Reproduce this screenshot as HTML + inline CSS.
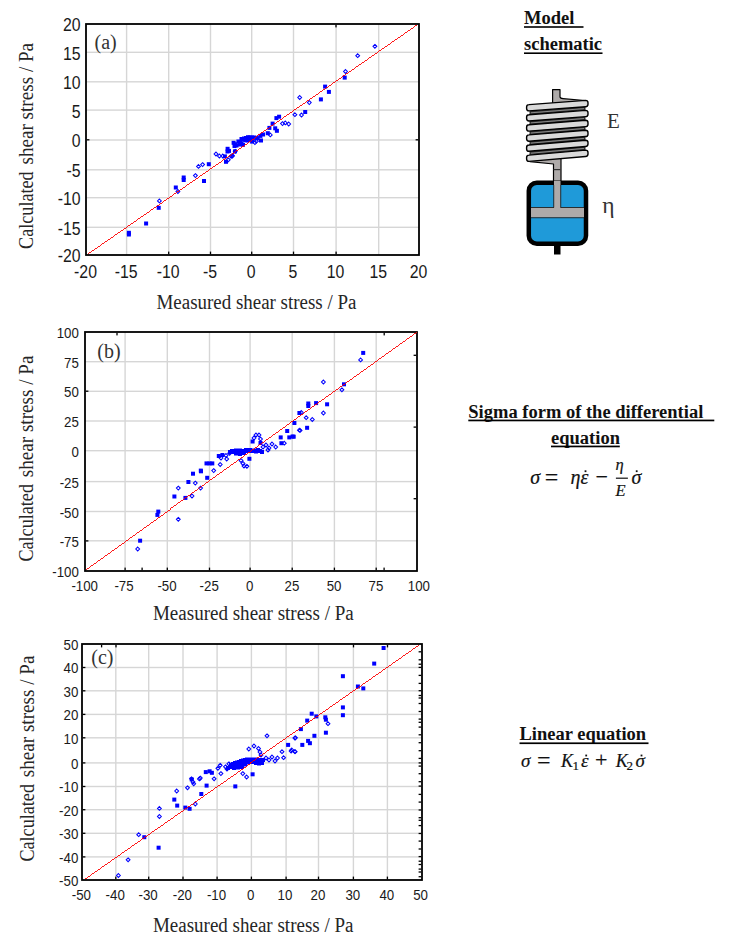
<!DOCTYPE html>
<html><head><meta charset="utf-8"><title>Figure</title>
<style>
html,body{margin:0;padding:0;background:#fff;width:729px;height:941px;overflow:hidden}
svg{display:block}
.tk{font-family:"Liberation Sans",sans-serif;fill:#1a1a1a}
.sf{font-family:"Liberation Serif",serif}
.sb{font-family:"Liberation Serif",serif;font-weight:bold;fill:#111}
.mi{font-family:"Liberation Serif",serif;font-style:italic}
.mn{font-family:"Liberation Serif",serif}
</style></head><body>
<svg width="729" height="941" viewBox="0 0 729 941">
<rect width="729" height="941" fill="#fff"/>
<rect x="125.9" y="24" width="1.4" height="231" fill="#d6d6d6"/>
<rect x="86" y="51.6" width="333" height="1.4" fill="#d6d6d6"/>
<rect x="168" y="24" width="1.4" height="231" fill="#d6d6d6"/>
<rect x="86" y="81.1" width="333" height="1.4" fill="#d6d6d6"/>
<rect x="209.8" y="24" width="1.4" height="231" fill="#d6d6d6"/>
<rect x="86" y="109.4" width="333" height="1.4" fill="#d6d6d6"/>
<rect x="251" y="24" width="1.4" height="231" fill="#d6d6d6"/>
<rect x="86" y="139.3" width="333" height="1.4" fill="#d6d6d6"/>
<rect x="292.8" y="24" width="1.4" height="231" fill="#d6d6d6"/>
<rect x="86" y="169.1" width="333" height="1.4" fill="#d6d6d6"/>
<rect x="335.4" y="24" width="1.4" height="231" fill="#d6d6d6"/>
<rect x="86" y="197" width="333" height="1.4" fill="#d6d6d6"/>
<rect x="378" y="24" width="1.4" height="231" fill="#d6d6d6"/>
<rect x="86" y="226.6" width="333" height="1.4" fill="#d6d6d6"/>
<rect x="126.9" y="230.8" width="4" height="4" fill="#0000ff"/>
<rect x="126.9" y="232.5" width="4" height="4" fill="#0000ff"/>
<rect x="144.1" y="221.5" width="4" height="4" fill="#0000ff"/>
<rect x="156.7" y="205.8" width="4" height="4" fill="#0000ff"/>
<path d="M159.4 199l1.9 1.9l-1.9 1.9l-1.9 -1.9z" fill="none" stroke="#0000ff" stroke-width="1.05"/>
<rect x="173.8" y="185.5" width="4" height="4" fill="#0000ff"/>
<path d="M177.9 189.6l1.9 1.9l-1.9 1.9l-1.9 -1.9z" fill="none" stroke="#0000ff" stroke-width="1.05"/>
<rect x="181.7" y="175.5" width="4" height="4" fill="#0000ff"/>
<rect x="181.7" y="178" width="4" height="4" fill="#0000ff"/>
<path d="M195.4 173.7l1.9 1.9l-1.9 1.9l-1.9 -1.9z" fill="none" stroke="#0000ff" stroke-width="1.05"/>
<path d="M198.5 164.5l1.9 1.9l-1.9 1.9l-1.9 -1.9z" fill="none" stroke="#0000ff" stroke-width="1.05"/>
<path d="M202.6 162.7l1.9 1.9l-1.9 1.9l-1.9 -1.9z" fill="none" stroke="#0000ff" stroke-width="1.05"/>
<rect x="206.8" y="162.2" width="4" height="4" fill="#0000ff"/>
<rect x="202" y="179" width="4" height="4" fill="#0000ff"/>
<path d="M216 152.1l1.9 1.9l-1.9 1.9l-1.9 -1.9z" fill="none" stroke="#0000ff" stroke-width="1.05"/>
<path d="M219.4 154.1l1.9 1.9l-1.9 1.9l-1.9 -1.9z" fill="none" stroke="#0000ff" stroke-width="1.05"/>
<path d="M222.8 154.1l1.9 1.9l-1.9 1.9l-1.9 -1.9z" fill="none" stroke="#0000ff" stroke-width="1.05"/>
<rect x="222.9" y="154.4" width="4" height="4" fill="#0000ff"/>
<rect x="224" y="159.8" width="4" height="4" fill="#0000ff"/>
<path d="M228.3 157.9l1.9 1.9l-1.9 1.9l-1.9 -1.9z" fill="none" stroke="#0000ff" stroke-width="1.05"/>
<rect x="225.6" y="146.8" width="4" height="4" fill="#0000ff"/>
<rect x="227" y="148.9" width="4" height="4" fill="#0000ff"/>
<rect x="225.5" y="149.5" width="4" height="4" fill="#0000ff"/>
<path d="M231.2 154.4l1.9 1.9l-1.9 1.9l-1.9 -1.9z" fill="none" stroke="#0000ff" stroke-width="1.05"/>
<path d="M232.4 154.1l1.9 1.9l-1.9 1.9l-1.9 -1.9z" fill="none" stroke="#0000ff" stroke-width="1.05"/>
<path d="M235.2 149.4l1.9 1.9l-1.9 1.9l-1.9 -1.9z" fill="none" stroke="#0000ff" stroke-width="1.05"/>
<rect x="265.8" y="131.2" width="4" height="4" fill="#0000ff"/>
<path d="M270.3 133l1.9 1.9l-1.9 1.9l-1.9 -1.9z" fill="none" stroke="#0000ff" stroke-width="1.05"/>
<rect x="267.4" y="125.9" width="4" height="4" fill="#0000ff"/>
<rect x="270.6" y="121.6" width="4" height="4" fill="#0000ff"/>
<rect x="273.2" y="126.3" width="4" height="4" fill="#0000ff"/>
<rect x="274.9" y="128.8" width="4" height="4" fill="#0000ff"/>
<rect x="274.4" y="116.1" width="4" height="4" fill="#0000ff"/>
<rect x="277.1" y="114.7" width="4" height="4" fill="#0000ff"/>
<path d="M282.5 121.7l1.9 1.9l-1.9 1.9l-1.9 -1.9z" fill="none" stroke="#0000ff" stroke-width="1.05"/>
<path d="M285.3 121l1.9 1.9l-1.9 1.9l-1.9 -1.9z" fill="none" stroke="#0000ff" stroke-width="1.05"/>
<path d="M288.7 122.1l1.9 1.9l-1.9 1.9l-1.9 -1.9z" fill="none" stroke="#0000ff" stroke-width="1.05"/>
<path d="M294.9 112.8l1.9 1.9l-1.9 1.9l-1.9 -1.9z" fill="none" stroke="#0000ff" stroke-width="1.05"/>
<path d="M301.5 113.1l1.9 1.9l-1.9 1.9l-1.9 -1.9z" fill="none" stroke="#0000ff" stroke-width="1.05"/>
<rect x="303.2" y="110" width="4" height="4" fill="#0000ff"/>
<path d="M299.7 95.6l1.9 1.9l-1.9 1.9l-1.9 -1.9z" fill="none" stroke="#0000ff" stroke-width="1.05"/>
<path d="M309.3 100.7l1.9 1.9l-1.9 1.9l-1.9 -1.9z" fill="none" stroke="#0000ff" stroke-width="1.05"/>
<rect x="318.9" y="97.4" width="4" height="4" fill="#0000ff"/>
<rect x="323.1" y="84.6" width="4" height="4" fill="#0000ff"/>
<rect x="326.9" y="89.9" width="4" height="4" fill="#0000ff"/>
<rect x="342.7" y="75.6" width="4" height="4" fill="#0000ff"/>
<path d="M345.5 69.6l1.9 1.9l-1.9 1.9l-1.9 -1.9z" fill="none" stroke="#0000ff" stroke-width="1.05"/>
<path d="M357.7 53.8l1.9 1.9l-1.9 1.9l-1.9 -1.9z" fill="none" stroke="#0000ff" stroke-width="1.05"/>
<path d="M374.9 44.4l1.9 1.9l-1.9 1.9l-1.9 -1.9z" fill="none" stroke="#0000ff" stroke-width="1.05"/>
<rect x="231.6" y="140.8" width="4" height="4" fill="#0000ff"/>
<rect x="233" y="142.2" width="4" height="4" fill="#0000ff"/>
<rect x="234.5" y="143.5" width="4" height="4" fill="#0000ff"/>
<rect x="232.5" y="144" width="4" height="4" fill="#0000ff"/>
<rect x="236.4" y="139.5" width="4" height="4" fill="#0000ff"/>
<rect x="238" y="140.8" width="4" height="4" fill="#0000ff"/>
<rect x="239.5" y="141.8" width="4" height="4" fill="#0000ff"/>
<rect x="241" y="142.8" width="4" height="4" fill="#0000ff"/>
<rect x="237.5" y="142.5" width="4" height="4" fill="#0000ff"/>
<rect x="239.5" y="137" width="4" height="4" fill="#0000ff"/>
<rect x="241.5" y="137.8" width="4" height="4" fill="#0000ff"/>
<rect x="243.5" y="138.2" width="4" height="4" fill="#0000ff"/>
<rect x="245.5" y="138.5" width="4" height="4" fill="#0000ff"/>
<rect x="242" y="136.5" width="4" height="4" fill="#0000ff"/>
<rect x="244" y="136" width="4" height="4" fill="#0000ff"/>
<rect x="246" y="135.2" width="4" height="4" fill="#0000ff"/>
<rect x="248" y="135.5" width="4" height="4" fill="#0000ff"/>
<rect x="250" y="135.4" width="4" height="4" fill="#0000ff"/>
<rect x="252" y="135.6" width="4" height="4" fill="#0000ff"/>
<rect x="254" y="135.8" width="4" height="4" fill="#0000ff"/>
<rect x="255.6" y="136.2" width="4" height="4" fill="#0000ff"/>
<rect x="247.5" y="137.4" width="4" height="4" fill="#0000ff"/>
<rect x="249.5" y="137.8" width="4" height="4" fill="#0000ff"/>
<rect x="250.1" y="139.6" width="4" height="4" fill="#0000ff"/>
<path d="M254.9 140.7l1.9 1.9l-1.9 1.9l-1.9 -1.9z" fill="none" stroke="#0000ff" stroke-width="1.05"/>
<path d="M256.4 139.3l1.9 1.9l-1.9 1.9l-1.9 -1.9z" fill="none" stroke="#0000ff" stroke-width="1.05"/>
<rect x="258.4" y="133.9" width="4" height="4" fill="#0000ff"/>
<rect x="261.1" y="132.5" width="4" height="4" fill="#0000ff"/>
<rect x="259" y="138.5" width="4" height="4" fill="#0000ff"/>
<rect x="233" y="149.4" width="4" height="4" fill="#0000ff"/>
<path d="M232.2 153.7l1.9 1.9l-1.9 1.9l-1.9 -1.9z" fill="none" stroke="#0000ff" stroke-width="1.05"/>
<rect x="86" y="24" width="333" height="231" fill="none" stroke="#000" stroke-width="1.8"/>
<line x1="87.5" y1="253.7" x2="416.5" y2="25.3" stroke="#ff0000" stroke-width="0.9" shape-rendering="crispEdges"/>
<rect x="86.8" y="139.15" width="2.6" height="1.3" fill="#000"/>
<rect x="415.6" y="139.15" width="2.6" height="1.3" fill="#000"/>
<rect x="335.35" y="24.8" width="1.3" height="2.6" fill="#000"/>
<rect x="168.05" y="251.6" width="1.3" height="2.6" fill="#000"/>
<rect x="209.85" y="251.6" width="1.3" height="2.6" fill="#000"/>
<rect x="251.05" y="251.6" width="1.3" height="2.6" fill="#000"/>
<rect x="292.85" y="251.6" width="1.3" height="2.6" fill="#000"/>
<rect x="335.45" y="251.6" width="1.3" height="2.6" fill="#000"/>
<text transform="translate(85.5 277.5) scale(0.88 1)" text-anchor="middle" class="tk" font-size="18">-20</text>
<text transform="translate(80.6 262.4) scale(0.88 1)" text-anchor="end" class="tk" font-size="18">-20</text>
<text transform="translate(126.1 277.5) scale(0.88 1)" text-anchor="middle" class="tk" font-size="18">-15</text>
<text transform="translate(80.6 234.7) scale(0.88 1)" text-anchor="end" class="tk" font-size="18">-15</text>
<text transform="translate(168.2 277.5) scale(0.88 1)" text-anchor="middle" class="tk" font-size="18">-10</text>
<text transform="translate(80.6 205.1) scale(0.88 1)" text-anchor="end" class="tk" font-size="18">-10</text>
<text transform="translate(210 277.5) scale(0.88 1)" text-anchor="middle" class="tk" font-size="18">-5</text>
<text transform="translate(80.6 177.2) scale(0.88 1)" text-anchor="end" class="tk" font-size="18">-5</text>
<text transform="translate(251.2 277.5) scale(0.88 1)" text-anchor="middle" class="tk" font-size="18">0</text>
<text transform="translate(80.6 147.4) scale(0.88 1)" text-anchor="end" class="tk" font-size="18">0</text>
<text transform="translate(293 277.5) scale(0.88 1)" text-anchor="middle" class="tk" font-size="18">5</text>
<text transform="translate(80.6 117.5) scale(0.88 1)" text-anchor="end" class="tk" font-size="18">5</text>
<text transform="translate(335.6 277.5) scale(0.88 1)" text-anchor="middle" class="tk" font-size="18">10</text>
<text transform="translate(80.6 89.2) scale(0.88 1)" text-anchor="end" class="tk" font-size="18">10</text>
<text transform="translate(378.2 277.5) scale(0.88 1)" text-anchor="middle" class="tk" font-size="18">15</text>
<text transform="translate(80.6 59.7) scale(0.88 1)" text-anchor="end" class="tk" font-size="18">15</text>
<text transform="translate(418.5 277.5) scale(0.88 1)" text-anchor="middle" class="tk" font-size="18">20</text>
<text transform="translate(80.6 31.4) scale(0.88 1)" text-anchor="end" class="tk" font-size="18">20</text>
<text x="94.5" y="48.6" class="sf" font-size="20" fill="#333">(a)</text>
<text x="156.5" y="309.2" class="sf" font-size="20" textLength="199.9" lengthAdjust="spacingAndGlyphs" fill="#262626">Measured shear stress / Pa</text>
<text transform="translate(32.5 248.9) rotate(-90)" x="0" y="0" class="sf" font-size="20" textLength="77.6" lengthAdjust="spacingAndGlyphs" fill="#262626">Calculated</text>
<text transform="translate(32.5 164.5) rotate(-90)" x="0" y="0" class="sf" font-size="20" textLength="121.6" lengthAdjust="spacingAndGlyphs" fill="#262626">shear stress / Pa</text>
<rect x="124.4" y="332" width="1.4" height="239" fill="#d6d6d6"/>
<rect x="85" y="361" width="332" height="1.4" fill="#d6d6d6"/>
<rect x="166.6" y="332" width="1.4" height="239" fill="#d6d6d6"/>
<rect x="85" y="390.6" width="332" height="1.4" fill="#d6d6d6"/>
<rect x="208.8" y="332" width="1.4" height="239" fill="#d6d6d6"/>
<rect x="85" y="420.3" width="332" height="1.4" fill="#d6d6d6"/>
<rect x="249.4" y="332" width="1.4" height="239" fill="#d6d6d6"/>
<rect x="85" y="450" width="332" height="1.4" fill="#d6d6d6"/>
<rect x="291.5" y="332" width="1.4" height="239" fill="#d6d6d6"/>
<rect x="85" y="480.9" width="332" height="1.4" fill="#d6d6d6"/>
<rect x="333.7" y="332" width="1.4" height="239" fill="#d6d6d6"/>
<rect x="85" y="510.8" width="332" height="1.4" fill="#d6d6d6"/>
<rect x="375.5" y="332" width="1.4" height="239" fill="#d6d6d6"/>
<rect x="85" y="540.1" width="332" height="1.4" fill="#d6d6d6"/>
<path d="M137.7 547.1l1.9 1.9l-1.9 1.9l-1.9 -1.9z" fill="none" stroke="#0000ff" stroke-width="1.05"/>
<rect x="138.1" y="538.7" width="4" height="4" fill="#0000ff"/>
<rect x="156.3" y="509.6" width="4" height="4" fill="#0000ff"/>
<rect x="155.4" y="512.9" width="4" height="4" fill="#0000ff"/>
<path d="M178.3 517.4l1.9 1.9l-1.9 1.9l-1.9 -1.9z" fill="none" stroke="#0000ff" stroke-width="1.05"/>
<rect x="172.4" y="494.5" width="4" height="4" fill="#0000ff"/>
<path d="M178.3 486.2l1.9 1.9l-1.9 1.9l-1.9 -1.9z" fill="none" stroke="#0000ff" stroke-width="1.05"/>
<rect x="183.4" y="495.9" width="4" height="4" fill="#0000ff"/>
<path d="M192 494.1l1.9 1.9l-1.9 1.9l-1.9 -1.9z" fill="none" stroke="#0000ff" stroke-width="1.05"/>
<rect x="186.4" y="480" width="4" height="4" fill="#0000ff"/>
<path d="M195.3 481.2l1.9 1.9l-1.9 1.9l-1.9 -1.9z" fill="none" stroke="#0000ff" stroke-width="1.05"/>
<rect x="191" y="471.7" width="4" height="4" fill="#0000ff"/>
<rect x="199" y="469.3" width="4" height="4" fill="#0000ff"/>
<path d="M200.6 486.2l1.9 1.9l-1.9 1.9l-1.9 -1.9z" fill="none" stroke="#0000ff" stroke-width="1.05"/>
<rect x="198.8" y="468.6" width="4" height="4" fill="#0000ff"/>
<rect x="205.2" y="475.8" width="4" height="4" fill="#0000ff"/>
<rect x="204.5" y="461.4" width="4" height="4" fill="#0000ff"/>
<rect x="207.5" y="461.4" width="4" height="4" fill="#0000ff"/>
<rect x="210.3" y="461.4" width="4" height="4" fill="#0000ff"/>
<path d="M213.7 468.7l1.9 1.9l-1.9 1.9l-1.9 -1.9z" fill="none" stroke="#0000ff" stroke-width="1.05"/>
<path d="M220.2 462.6l1.9 1.9l-1.9 1.9l-1.9 -1.9z" fill="none" stroke="#0000ff" stroke-width="1.05"/>
<rect x="216.8" y="454" width="4" height="4" fill="#0000ff"/>
<path d="M221 456.1l1.9 1.9l-1.9 1.9l-1.9 -1.9z" fill="none" stroke="#0000ff" stroke-width="1.05"/>
<rect x="220.4" y="453" width="4" height="4" fill="#0000ff"/>
<path d="M226.7 457.1l1.9 1.9l-1.9 1.9l-1.9 -1.9z" fill="none" stroke="#0000ff" stroke-width="1.05"/>
<path d="M226 453.6l1.9 1.9l-1.9 1.9l-1.9 -1.9z" fill="none" stroke="#0000ff" stroke-width="1.05"/>
<path d="M229.6 451.4l1.9 1.9l-1.9 1.9l-1.9 -1.9z" fill="none" stroke="#0000ff" stroke-width="1.05"/>
<rect x="228" y="450" width="4" height="4" fill="#0000ff"/>
<rect x="230" y="449" width="4" height="4" fill="#0000ff"/>
<rect x="232" y="450" width="4" height="4" fill="#0000ff"/>
<rect x="234" y="448.5" width="4" height="4" fill="#0000ff"/>
<rect x="236" y="449.5" width="4" height="4" fill="#0000ff"/>
<rect x="238" y="448.5" width="4" height="4" fill="#0000ff"/>
<rect x="240" y="450" width="4" height="4" fill="#0000ff"/>
<rect x="242" y="449" width="4" height="4" fill="#0000ff"/>
<rect x="244" y="448" width="4" height="4" fill="#0000ff"/>
<rect x="246" y="449" width="4" height="4" fill="#0000ff"/>
<rect x="248" y="448" width="4" height="4" fill="#0000ff"/>
<rect x="250" y="449" width="4" height="4" fill="#0000ff"/>
<rect x="252" y="448.5" width="4" height="4" fill="#0000ff"/>
<rect x="254" y="449.5" width="4" height="4" fill="#0000ff"/>
<rect x="256" y="448" width="4" height="4" fill="#0000ff"/>
<rect x="258" y="449" width="4" height="4" fill="#0000ff"/>
<rect x="260" y="450" width="4" height="4" fill="#0000ff"/>
<rect x="234" y="451.5" width="4" height="4" fill="#0000ff"/>
<rect x="238" y="452" width="4" height="4" fill="#0000ff"/>
<rect x="242" y="451" width="4" height="4" fill="#0000ff"/>
<path d="M241 458.6l1.9 1.9l-1.9 1.9l-1.9 -1.9z" fill="none" stroke="#0000ff" stroke-width="1.05"/>
<path d="M243 461.6l1.9 1.9l-1.9 1.9l-1.9 -1.9z" fill="none" stroke="#0000ff" stroke-width="1.05"/>
<path d="M246.9 464.4l1.9 1.9l-1.9 1.9l-1.9 -1.9z" fill="none" stroke="#0000ff" stroke-width="1.05"/>
<path d="M244 464.1l1.9 1.9l-1.9 1.9l-1.9 -1.9z" fill="none" stroke="#0000ff" stroke-width="1.05"/>
<rect x="247.4" y="456.8" width="4" height="4" fill="#0000ff"/>
<rect x="250.6" y="439.5" width="4" height="4" fill="#0000ff"/>
<path d="M254 436.1l1.9 1.9l-1.9 1.9l-1.9 -1.9z" fill="none" stroke="#0000ff" stroke-width="1.05"/>
<path d="M256 433.1l1.9 1.9l-1.9 1.9l-1.9 -1.9z" fill="none" stroke="#0000ff" stroke-width="1.05"/>
<path d="M259 433.1l1.9 1.9l-1.9 1.9l-1.9 -1.9z" fill="none" stroke="#0000ff" stroke-width="1.05"/>
<path d="M260.5 437.1l1.9 1.9l-1.9 1.9l-1.9 -1.9z" fill="none" stroke="#0000ff" stroke-width="1.05"/>
<rect x="258.5" y="441" width="4" height="4" fill="#0000ff"/>
<path d="M263 445.1l1.9 1.9l-1.9 1.9l-1.9 -1.9z" fill="none" stroke="#0000ff" stroke-width="1.05"/>
<path d="M266 443.1l1.9 1.9l-1.9 1.9l-1.9 -1.9z" fill="none" stroke="#0000ff" stroke-width="1.05"/>
<path d="M269 446.1l1.9 1.9l-1.9 1.9l-1.9 -1.9z" fill="none" stroke="#0000ff" stroke-width="1.05"/>
<path d="M272 442.1l1.9 1.9l-1.9 1.9l-1.9 -1.9z" fill="none" stroke="#0000ff" stroke-width="1.05"/>
<path d="M275.7 445.1l1.9 1.9l-1.9 1.9l-1.9 -1.9z" fill="none" stroke="#0000ff" stroke-width="1.05"/>
<path d="M268 448.1l1.9 1.9l-1.9 1.9l-1.9 -1.9z" fill="none" stroke="#0000ff" stroke-width="1.05"/>
<rect x="278.7" y="435.4" width="4" height="4" fill="#0000ff"/>
<rect x="279.4" y="441.2" width="4" height="4" fill="#0000ff"/>
<path d="M284.3 441.3l1.9 1.9l-1.9 1.9l-1.9 -1.9z" fill="none" stroke="#0000ff" stroke-width="1.05"/>
<rect x="285.2" y="429" width="4" height="4" fill="#0000ff"/>
<rect x="287.3" y="435.4" width="4" height="4" fill="#0000ff"/>
<rect x="291.7" y="434.7" width="4" height="4" fill="#0000ff"/>
<rect x="292.4" y="421" width="4" height="4" fill="#0000ff"/>
<path d="M299.4 428.3l1.9 1.9l-1.9 1.9l-1.9 -1.9z" fill="none" stroke="#0000ff" stroke-width="1.05"/>
<rect x="297.4" y="411" width="4" height="4" fill="#0000ff"/>
<rect x="290.6" y="434.5" width="4" height="4" fill="#0000ff"/>
<path d="M300.1 428.5l1.9 1.9l-1.9 1.9l-1.9 -1.9z" fill="none" stroke="#0000ff" stroke-width="1.05"/>
<rect x="305.1" y="425.8" width="4" height="4" fill="#0000ff"/>
<path d="M306.2 415.8l1.9 1.9l-1.9 1.9l-1.9 -1.9z" fill="none" stroke="#0000ff" stroke-width="1.05"/>
<path d="M312.3 417.6l1.9 1.9l-1.9 1.9l-1.9 -1.9z" fill="none" stroke="#0000ff" stroke-width="1.05"/>
<path d="M301.3 410.6l1.9 1.9l-1.9 1.9l-1.9 -1.9z" fill="none" stroke="#0000ff" stroke-width="1.05"/>
<rect x="306.3" y="401.5" width="4" height="4" fill="#0000ff"/>
<rect x="306.3" y="404" width="4" height="4" fill="#0000ff"/>
<rect x="314.1" y="401.1" width="4" height="4" fill="#0000ff"/>
<rect x="325.1" y="402.3" width="4" height="4" fill="#0000ff"/>
<path d="M323.4 411.1l1.9 1.9l-1.9 1.9l-1.9 -1.9z" fill="none" stroke="#0000ff" stroke-width="1.05"/>
<path d="M323.4 380.1l1.9 1.9l-1.9 1.9l-1.9 -1.9z" fill="none" stroke="#0000ff" stroke-width="1.05"/>
<rect x="342" y="382.3" width="4" height="4" fill="#0000ff"/>
<path d="M341.9 387.9l1.9 1.9l-1.9 1.9l-1.9 -1.9z" fill="none" stroke="#0000ff" stroke-width="1.05"/>
<path d="M360.6 358l1.9 1.9l-1.9 1.9l-1.9 -1.9z" fill="none" stroke="#0000ff" stroke-width="1.05"/>
<rect x="361.2" y="350.9" width="4" height="4" fill="#0000ff"/>
<rect x="85" y="332" width="332" height="239" fill="none" stroke="#000" stroke-width="1.8"/>
<line x1="85.5" y1="569.5" x2="416.5" y2="332.5" stroke="#ff0000" stroke-width="0.9" shape-rendering="crispEdges"/>
<rect x="413.6" y="354.65" width="2.6" height="1.3" fill="#000"/>
<rect x="413.6" y="426.45" width="2.6" height="1.3" fill="#000"/>
<rect x="413.6" y="498.05" width="2.6" height="1.3" fill="#000"/>
<rect x="85.8" y="390.55" width="2.6" height="1.3" fill="#000"/>
<rect x="85.8" y="540.25" width="2.6" height="1.3" fill="#000"/>
<rect x="116.35" y="332.8" width="1.3" height="2.6" fill="#000"/>
<rect x="383.55" y="332.8" width="1.3" height="2.6" fill="#000"/>
<rect x="124.45" y="567.6" width="1.3" height="2.6" fill="#000"/>
<rect x="141.45" y="567.6" width="1.3" height="2.6" fill="#000"/>
<rect x="166.65" y="567.6" width="1.3" height="2.6" fill="#000"/>
<rect x="208.85" y="567.6" width="1.3" height="2.6" fill="#000"/>
<rect x="249.45" y="567.6" width="1.3" height="2.6" fill="#000"/>
<rect x="291.55" y="567.6" width="1.3" height="2.6" fill="#000"/>
<rect x="333.75" y="567.6" width="1.3" height="2.6" fill="#000"/>
<rect x="375.55" y="567.6" width="1.3" height="2.6" fill="#000"/>
<rect x="383.45" y="567.6" width="1.3" height="2.6" fill="#000"/>
<text transform="translate(84.7 590.7) scale(0.95 1)" text-anchor="middle" class="tk" font-size="14">-100</text>
<text transform="translate(78.9 577) scale(0.95 1)" text-anchor="end" class="tk" font-size="14">-100</text>
<text transform="translate(124 590.7) scale(0.95 1)" text-anchor="middle" class="tk" font-size="14">-75</text>
<text transform="translate(78.9 546.8) scale(0.95 1)" text-anchor="end" class="tk" font-size="14">-75</text>
<text transform="translate(167 590.7) scale(0.95 1)" text-anchor="middle" class="tk" font-size="14">-50</text>
<text transform="translate(78.9 517.5) scale(0.95 1)" text-anchor="end" class="tk" font-size="14">-50</text>
<text transform="translate(209.2 590.7) scale(0.95 1)" text-anchor="middle" class="tk" font-size="14">-25</text>
<text transform="translate(78.9 487.6) scale(0.95 1)" text-anchor="end" class="tk" font-size="14">-25</text>
<text transform="translate(249.8 590.7) scale(0.95 1)" text-anchor="middle" class="tk" font-size="14">0</text>
<text transform="translate(78.9 456.7) scale(0.95 1)" text-anchor="end" class="tk" font-size="14">0</text>
<text transform="translate(291.9 590.7) scale(0.95 1)" text-anchor="middle" class="tk" font-size="14">25</text>
<text transform="translate(78.9 427) scale(0.95 1)" text-anchor="end" class="tk" font-size="14">25</text>
<text transform="translate(334.1 590.7) scale(0.95 1)" text-anchor="middle" class="tk" font-size="14">50</text>
<text transform="translate(78.9 397.3) scale(0.95 1)" text-anchor="end" class="tk" font-size="14">50</text>
<text transform="translate(375.9 590.7) scale(0.95 1)" text-anchor="middle" class="tk" font-size="14">75</text>
<text transform="translate(78.9 367.7) scale(0.95 1)" text-anchor="end" class="tk" font-size="14">75</text>
<text transform="translate(418.9 590.7) scale(0.95 1)" text-anchor="middle" class="tk" font-size="14">100</text>
<text transform="translate(78.9 338) scale(0.95 1)" text-anchor="end" class="tk" font-size="14">100</text>
<text x="97.3" y="357.5" class="sf" font-size="20" fill="#333">(b)</text>
<text x="152.9" y="619.9" class="sf" font-size="20" textLength="200.9" lengthAdjust="spacingAndGlyphs" fill="#262626">Measured shear stress / Pa</text>
<text transform="translate(32.5 561.6) rotate(-90)" x="0" y="0" class="sf" font-size="20" textLength="77.6" lengthAdjust="spacingAndGlyphs" fill="#262626">Calculated</text>
<text transform="translate(32.5 477.2) rotate(-90)" x="0" y="0" class="sf" font-size="20" textLength="121.6" lengthAdjust="spacingAndGlyphs" fill="#262626">shear stress / Pa</text>
<rect x="115.1" y="644" width="1.4" height="236" fill="#d6d6d6"/>
<rect x="82" y="666.8" width="340" height="1.4" fill="#d6d6d6"/>
<rect x="148" y="644" width="1.4" height="236" fill="#d6d6d6"/>
<rect x="82" y="690.1" width="340" height="1.4" fill="#d6d6d6"/>
<rect x="182.3" y="644" width="1.4" height="236" fill="#d6d6d6"/>
<rect x="82" y="713.7" width="340" height="1.4" fill="#d6d6d6"/>
<rect x="216.4" y="644" width="1.4" height="236" fill="#d6d6d6"/>
<rect x="82" y="737.1" width="340" height="1.4" fill="#d6d6d6"/>
<rect x="250.7" y="644" width="1.4" height="236" fill="#d6d6d6"/>
<rect x="82" y="762.2" width="340" height="1.4" fill="#d6d6d6"/>
<rect x="285.4" y="644" width="1.4" height="236" fill="#d6d6d6"/>
<rect x="82" y="785.8" width="340" height="1.4" fill="#d6d6d6"/>
<rect x="317.8" y="644" width="1.4" height="236" fill="#d6d6d6"/>
<rect x="82" y="809" width="340" height="1.4" fill="#d6d6d6"/>
<rect x="352.7" y="644" width="1.4" height="236" fill="#d6d6d6"/>
<rect x="82" y="832.6" width="340" height="1.4" fill="#d6d6d6"/>
<rect x="386.7" y="644" width="1.4" height="236" fill="#d6d6d6"/>
<rect x="82" y="856.2" width="340" height="1.4" fill="#d6d6d6"/>
<path d="M118.4 873.6l1.9 1.9l-1.9 1.9l-1.9 -1.9z" fill="none" stroke="#0000ff" stroke-width="1.05"/>
<path d="M128.1 857.9l1.9 1.9l-1.9 1.9l-1.9 -1.9z" fill="none" stroke="#0000ff" stroke-width="1.05"/>
<path d="M138.7 832.8l1.9 1.9l-1.9 1.9l-1.9 -1.9z" fill="none" stroke="#0000ff" stroke-width="1.05"/>
<rect x="142.3" y="835.2" width="4" height="4" fill="#0000ff"/>
<rect x="156.6" y="845.7" width="4" height="4" fill="#0000ff"/>
<path d="M159.4 814.6l1.9 1.9l-1.9 1.9l-1.9 -1.9z" fill="none" stroke="#0000ff" stroke-width="1.05"/>
<path d="M159.4 806.5l1.9 1.9l-1.9 1.9l-1.9 -1.9z" fill="none" stroke="#0000ff" stroke-width="1.05"/>
<rect x="172.3" y="797.6" width="4" height="4" fill="#0000ff"/>
<rect x="175.2" y="803.6" width="4" height="4" fill="#0000ff"/>
<path d="M176.7 789.1l1.9 1.9l-1.9 1.9l-1.9 -1.9z" fill="none" stroke="#0000ff" stroke-width="1.05"/>
<path d="M187.5 785.9l1.9 1.9l-1.9 1.9l-1.9 -1.9z" fill="none" stroke="#0000ff" stroke-width="1.05"/>
<rect x="189.7" y="777.4" width="4" height="4" fill="#0000ff"/>
<path d="M193.7 781.9l1.9 1.9l-1.9 1.9l-1.9 -1.9z" fill="none" stroke="#0000ff" stroke-width="1.05"/>
<rect x="183.3" y="805.6" width="4" height="4" fill="#0000ff"/>
<rect x="187.6" y="806.8" width="4" height="4" fill="#0000ff"/>
<path d="M195.3 802.1l1.9 1.9l-1.9 1.9l-1.9 -1.9z" fill="none" stroke="#0000ff" stroke-width="1.05"/>
<path d="M199.4 777l1.9 1.9l-1.9 1.9l-1.9 -1.9z" fill="none" stroke="#0000ff" stroke-width="1.05"/>
<path d="M193 780l1.9 1.9l-1.9 1.9l-1.9 -1.9z" fill="none" stroke="#0000ff" stroke-width="1.05"/>
<path d="M191.5 776.9l1.9 1.9l-1.9 1.9l-1.9 -1.9z" fill="none" stroke="#0000ff" stroke-width="1.05"/>
<rect x="199.3" y="792" width="4" height="4" fill="#0000ff"/>
<path d="M200.3 776.2l1.9 1.9l-1.9 1.9l-1.9 -1.9z" fill="none" stroke="#0000ff" stroke-width="1.05"/>
<rect x="204.6" y="783.6" width="4" height="4" fill="#0000ff"/>
<rect x="203.8" y="770.1" width="4" height="4" fill="#0000ff"/>
<rect x="207.6" y="769.3" width="4" height="4" fill="#0000ff"/>
<rect x="209.9" y="770.8" width="4" height="4" fill="#0000ff"/>
<path d="M214.1 776.9l1.9 1.9l-1.9 1.9l-1.9 -1.9z" fill="none" stroke="#0000ff" stroke-width="1.05"/>
<path d="M217.9 766.4l1.9 1.9l-1.9 1.9l-1.9 -1.9z" fill="none" stroke="#0000ff" stroke-width="1.05"/>
<path d="M220.2 763.4l1.9 1.9l-1.9 1.9l-1.9 -1.9z" fill="none" stroke="#0000ff" stroke-width="1.05"/>
<path d="M220.9 771.7l1.9 1.9l-1.9 1.9l-1.9 -1.9z" fill="none" stroke="#0000ff" stroke-width="1.05"/>
<path d="M225.5 764.9l1.9 1.9l-1.9 1.9l-1.9 -1.9z" fill="none" stroke="#0000ff" stroke-width="1.05"/>
<path d="M227 767.1l1.9 1.9l-1.9 1.9l-1.9 -1.9z" fill="none" stroke="#0000ff" stroke-width="1.05"/>
<path d="M228.9 761.9l1.9 1.9l-1.9 1.9l-1.9 -1.9z" fill="none" stroke="#0000ff" stroke-width="1.05"/>
<rect x="233.3" y="784.4" width="4" height="4" fill="#0000ff"/>
<rect x="229" y="763" width="4" height="4" fill="#0000ff"/>
<rect x="231" y="762" width="4" height="4" fill="#0000ff"/>
<rect x="233" y="761" width="4" height="4" fill="#0000ff"/>
<rect x="235" y="760.5" width="4" height="4" fill="#0000ff"/>
<rect x="237" y="760" width="4" height="4" fill="#0000ff"/>
<rect x="239" y="759" width="4" height="4" fill="#0000ff"/>
<rect x="241" y="758.5" width="4" height="4" fill="#0000ff"/>
<rect x="243" y="758" width="4" height="4" fill="#0000ff"/>
<rect x="245" y="757.5" width="4" height="4" fill="#0000ff"/>
<rect x="247" y="758" width="4" height="4" fill="#0000ff"/>
<rect x="249" y="757.5" width="4" height="4" fill="#0000ff"/>
<rect x="251" y="758" width="4" height="4" fill="#0000ff"/>
<rect x="253" y="757.5" width="4" height="4" fill="#0000ff"/>
<rect x="255" y="758.5" width="4" height="4" fill="#0000ff"/>
<rect x="257" y="758" width="4" height="4" fill="#0000ff"/>
<rect x="259" y="759" width="4" height="4" fill="#0000ff"/>
<rect x="261" y="758" width="4" height="4" fill="#0000ff"/>
<rect x="238" y="762" width="4" height="4" fill="#0000ff"/>
<rect x="242" y="761" width="4" height="4" fill="#0000ff"/>
<rect x="246" y="760.5" width="4" height="4" fill="#0000ff"/>
<rect x="250" y="760" width="4" height="4" fill="#0000ff"/>
<rect x="228" y="765" width="4" height="4" fill="#0000ff"/>
<rect x="231" y="764.5" width="4" height="4" fill="#0000ff"/>
<rect x="234" y="764" width="4" height="4" fill="#0000ff"/>
<rect x="237" y="763.5" width="4" height="4" fill="#0000ff"/>
<rect x="240" y="763" width="4" height="4" fill="#0000ff"/>
<rect x="243" y="762.5" width="4" height="4" fill="#0000ff"/>
<rect x="226" y="766" width="4" height="4" fill="#0000ff"/>
<rect x="232" y="766" width="4" height="4" fill="#0000ff"/>
<rect x="236" y="765.5" width="4" height="4" fill="#0000ff"/>
<rect x="240" y="765" width="4" height="4" fill="#0000ff"/>
<rect x="254" y="761" width="4" height="4" fill="#0000ff"/>
<rect x="257" y="761.5" width="4" height="4" fill="#0000ff"/>
<rect x="260" y="761" width="4" height="4" fill="#0000ff"/>
<rect x="255" y="759.5" width="4" height="4" fill="#0000ff"/>
<path d="M242.8 771.7l1.9 1.9l-1.9 1.9l-1.9 -1.9z" fill="none" stroke="#0000ff" stroke-width="1.05"/>
<path d="M246.6 775.1l1.9 1.9l-1.9 1.9l-1.9 -1.9z" fill="none" stroke="#0000ff" stroke-width="1.05"/>
<rect x="250.6" y="772.3" width="4" height="4" fill="#0000ff"/>
<path d="M248.8 747.1l1.9 1.9l-1.9 1.9l-1.9 -1.9z" fill="none" stroke="#0000ff" stroke-width="1.05"/>
<path d="M254 744.1l1.9 1.9l-1.9 1.9l-1.9 -1.9z" fill="none" stroke="#0000ff" stroke-width="1.05"/>
<path d="M258.5 746.6l1.9 1.9l-1.9 1.9l-1.9 -1.9z" fill="none" stroke="#0000ff" stroke-width="1.05"/>
<path d="M260 750.1l1.9 1.9l-1.9 1.9l-1.9 -1.9z" fill="none" stroke="#0000ff" stroke-width="1.05"/>
<path d="M261 753.1l1.9 1.9l-1.9 1.9l-1.9 -1.9z" fill="none" stroke="#0000ff" stroke-width="1.05"/>
<path d="M267 733.9l1.9 1.9l-1.9 1.9l-1.9 -1.9z" fill="none" stroke="#0000ff" stroke-width="1.05"/>
<path d="M266 756.1l1.9 1.9l-1.9 1.9l-1.9 -1.9z" fill="none" stroke="#0000ff" stroke-width="1.05"/>
<path d="M269 758.1l1.9 1.9l-1.9 1.9l-1.9 -1.9z" fill="none" stroke="#0000ff" stroke-width="1.05"/>
<path d="M272 755.1l1.9 1.9l-1.9 1.9l-1.9 -1.9z" fill="none" stroke="#0000ff" stroke-width="1.05"/>
<path d="M275 759.1l1.9 1.9l-1.9 1.9l-1.9 -1.9z" fill="none" stroke="#0000ff" stroke-width="1.05"/>
<path d="M277.5 756.1l1.9 1.9l-1.9 1.9l-1.9 -1.9z" fill="none" stroke="#0000ff" stroke-width="1.05"/>
<path d="M282 749.8l1.9 1.9l-1.9 1.9l-1.9 -1.9z" fill="none" stroke="#0000ff" stroke-width="1.05"/>
<path d="M283.6 755.8l1.9 1.9l-1.9 1.9l-1.9 -1.9z" fill="none" stroke="#0000ff" stroke-width="1.05"/>
<rect x="286.1" y="742.9" width="4" height="4" fill="#0000ff"/>
<path d="M291.1 749.1l1.9 1.9l-1.9 1.9l-1.9 -1.9z" fill="none" stroke="#0000ff" stroke-width="1.05"/>
<path d="M294.9 749.8l1.9 1.9l-1.9 1.9l-1.9 -1.9z" fill="none" stroke="#0000ff" stroke-width="1.05"/>
<path d="M294.9 736.2l1.9 1.9l-1.9 1.9l-1.9 -1.9z" fill="none" stroke="#0000ff" stroke-width="1.05"/>
<rect x="381.6" y="646" width="4" height="4" fill="#0000ff"/>
<rect x="372.2" y="661.6" width="4" height="4" fill="#0000ff"/>
<rect x="340.9" y="674.2" width="4" height="4" fill="#0000ff"/>
<rect x="355.9" y="684.5" width="4" height="4" fill="#0000ff"/>
<rect x="361.3" y="686.4" width="4" height="4" fill="#0000ff"/>
<rect x="340.9" y="705.4" width="4" height="4" fill="#0000ff"/>
<rect x="340.9" y="713.2" width="4" height="4" fill="#0000ff"/>
<rect x="309.7" y="711.7" width="4" height="4" fill="#0000ff"/>
<rect x="314.3" y="714.4" width="4" height="4" fill="#0000ff"/>
<rect x="305.2" y="718.6" width="4" height="4" fill="#0000ff"/>
<rect x="323.3" y="715.3" width="4" height="4" fill="#0000ff"/>
<rect x="323.9" y="717.7" width="4" height="4" fill="#0000ff"/>
<path d="M328 721.8l1.9 1.9l-1.9 1.9l-1.9 -1.9z" fill="none" stroke="#0000ff" stroke-width="1.05"/>
<rect x="323.9" y="730.7" width="4" height="4" fill="#0000ff"/>
<rect x="312.4" y="733.8" width="4" height="4" fill="#0000ff"/>
<rect x="298.9" y="727.1" width="4" height="4" fill="#0000ff"/>
<path d="M295.4 735.9l1.9 1.9l-1.9 1.9l-1.9 -1.9z" fill="none" stroke="#0000ff" stroke-width="1.05"/>
<rect x="300.3" y="742.9" width="4" height="4" fill="#0000ff"/>
<rect x="306.1" y="738.9" width="4" height="4" fill="#0000ff"/>
<rect x="307.9" y="741.2" width="4" height="4" fill="#0000ff"/>
<path d="M291.8 748l1.9 1.9l-1.9 1.9l-1.9 -1.9z" fill="none" stroke="#0000ff" stroke-width="1.05"/>
<path d="M295.1 749.8l1.9 1.9l-1.9 1.9l-1.9 -1.9z" fill="none" stroke="#0000ff" stroke-width="1.05"/>
<rect x="82" y="644" width="340" height="236" fill="none" stroke="#000" stroke-width="1.8"/>
<line x1="84.5" y1="878.8" x2="418.5" y2="645.5" stroke="#ff0000" stroke-width="0.9" shape-rendering="crispEdges"/>
<rect x="418.6" y="651.15" width="2.6" height="1.3" fill="#000"/>
<rect x="418.6" y="659.15" width="2.6" height="1.3" fill="#000"/>
<rect x="418.6" y="663.55" width="2.6" height="1.3" fill="#000"/>
<rect x="418.6" y="666.75" width="2.6" height="1.3" fill="#000"/>
<rect x="418.6" y="674.75" width="2.6" height="1.3" fill="#000"/>
<rect x="418.6" y="682.75" width="2.6" height="1.3" fill="#000"/>
<rect x="418.6" y="690.05" width="2.6" height="1.3" fill="#000"/>
<rect x="418.6" y="694.85" width="2.6" height="1.3" fill="#000"/>
<rect x="418.6" y="697.35" width="2.6" height="1.3" fill="#000"/>
<rect x="418.6" y="702.85" width="2.6" height="1.3" fill="#000"/>
<rect x="418.6" y="710.85" width="2.6" height="1.3" fill="#000"/>
<rect x="418.6" y="718.45" width="2.6" height="1.3" fill="#000"/>
<rect x="418.6" y="721.65" width="2.6" height="1.3" fill="#000"/>
<rect x="418.6" y="726.45" width="2.6" height="1.3" fill="#000"/>
<rect x="418.6" y="734.15" width="2.6" height="1.3" fill="#000"/>
<rect x="418.6" y="742.05" width="2.6" height="1.3" fill="#000"/>
<rect x="418.6" y="750.05" width="2.6" height="1.3" fill="#000"/>
<rect x="418.6" y="757.75" width="2.6" height="1.3" fill="#000"/>
<rect x="418.6" y="762.25" width="2.6" height="1.3" fill="#000"/>
<rect x="418.6" y="765.45" width="2.6" height="1.3" fill="#000"/>
<rect x="418.6" y="773.05" width="2.6" height="1.3" fill="#000"/>
<rect x="418.6" y="781.05" width="2.6" height="1.3" fill="#000"/>
<rect x="418.6" y="785.45" width="2.6" height="1.3" fill="#000"/>
<rect x="418.6" y="793.75" width="2.6" height="1.3" fill="#000"/>
<rect x="418.6" y="801.45" width="2.6" height="1.3" fill="#000"/>
<rect x="418.6" y="809.35" width="2.6" height="1.3" fill="#000"/>
<rect x="418.6" y="817.05" width="2.6" height="1.3" fill="#000"/>
<rect x="418.6" y="819.65" width="2.6" height="1.3" fill="#000"/>
<rect x="418.6" y="824.95" width="2.6" height="1.3" fill="#000"/>
<rect x="418.6" y="832.85" width="2.6" height="1.3" fill="#000"/>
<rect x="418.6" y="840.45" width="2.6" height="1.3" fill="#000"/>
<rect x="418.6" y="848.35" width="2.6" height="1.3" fill="#000"/>
<rect x="418.6" y="855.95" width="2.6" height="1.3" fill="#000"/>
<rect x="418.6" y="860.55" width="2.6" height="1.3" fill="#000"/>
<rect x="418.6" y="863.85" width="2.6" height="1.3" fill="#000"/>
<rect x="418.6" y="868.45" width="2.6" height="1.3" fill="#000"/>
<rect x="418.6" y="871.35" width="2.6" height="1.3" fill="#000"/>
<rect x="418.6" y="876.05" width="2.6" height="1.3" fill="#000"/>
<rect x="82.8" y="666.85" width="2.6" height="1.3" fill="#000"/>
<rect x="82.8" y="690.15" width="2.6" height="1.3" fill="#000"/>
<rect x="82.8" y="713.75" width="2.6" height="1.3" fill="#000"/>
<rect x="82.8" y="737.15" width="2.6" height="1.3" fill="#000"/>
<rect x="82.8" y="762.25" width="2.6" height="1.3" fill="#000"/>
<rect x="82.8" y="785.85" width="2.6" height="1.3" fill="#000"/>
<rect x="82.8" y="809.05" width="2.6" height="1.3" fill="#000"/>
<rect x="82.8" y="832.65" width="2.6" height="1.3" fill="#000"/>
<rect x="82.8" y="856.25" width="2.6" height="1.3" fill="#000"/>
<rect x="100.95" y="644.8" width="1.3" height="2.6" fill="#000"/>
<rect x="115.35" y="644.8" width="1.3" height="2.6" fill="#000"/>
<rect x="352.85" y="644.8" width="1.3" height="2.6" fill="#000"/>
<rect x="386.85" y="644.8" width="1.3" height="2.6" fill="#000"/>
<rect x="115.15" y="876.6" width="1.3" height="2.6" fill="#000"/>
<rect x="148.05" y="876.6" width="1.3" height="2.6" fill="#000"/>
<rect x="182.35" y="876.6" width="1.3" height="2.6" fill="#000"/>
<rect x="216.45" y="876.6" width="1.3" height="2.6" fill="#000"/>
<rect x="250.75" y="876.6" width="1.3" height="2.6" fill="#000"/>
<rect x="285.45" y="876.6" width="1.3" height="2.6" fill="#000"/>
<rect x="317.85" y="876.6" width="1.3" height="2.6" fill="#000"/>
<rect x="352.75" y="876.6" width="1.3" height="2.6" fill="#000"/>
<rect x="386.75" y="876.6" width="1.3" height="2.6" fill="#000"/>
<text transform="translate(81.4 899.6) scale(0.9 1)" text-anchor="middle" class="tk" font-size="14.8">-50</text>
<text transform="translate(78.3 885.9) scale(0.9 1)" text-anchor="end" class="tk" font-size="14.8">-50</text>
<text transform="translate(115.2 899.6) scale(0.9 1)" text-anchor="middle" class="tk" font-size="14.8">-40</text>
<text transform="translate(78.3 862.8) scale(0.9 1)" text-anchor="end" class="tk" font-size="14.8">-40</text>
<text transform="translate(148.1 899.6) scale(0.9 1)" text-anchor="middle" class="tk" font-size="14.8">-30</text>
<text transform="translate(78.3 839.2) scale(0.9 1)" text-anchor="end" class="tk" font-size="14.8">-30</text>
<text transform="translate(182.4 899.6) scale(0.9 1)" text-anchor="middle" class="tk" font-size="14.8">-20</text>
<text transform="translate(78.3 815.6) scale(0.9 1)" text-anchor="end" class="tk" font-size="14.8">-20</text>
<text transform="translate(216.5 899.6) scale(0.9 1)" text-anchor="middle" class="tk" font-size="14.8">-10</text>
<text transform="translate(78.3 792.4) scale(0.9 1)" text-anchor="end" class="tk" font-size="14.8">-10</text>
<text transform="translate(250.8 899.6) scale(0.9 1)" text-anchor="middle" class="tk" font-size="14.8">0</text>
<text transform="translate(78.3 768.8) scale(0.9 1)" text-anchor="end" class="tk" font-size="14.8">0</text>
<text transform="translate(284.9 899.6) scale(0.9 1)" text-anchor="middle" class="tk" font-size="14.8">10</text>
<text transform="translate(78.3 743.7) scale(0.9 1)" text-anchor="end" class="tk" font-size="14.8">10</text>
<text transform="translate(317.9 899.6) scale(0.9 1)" text-anchor="middle" class="tk" font-size="14.8">20</text>
<text transform="translate(78.3 720.3) scale(0.9 1)" text-anchor="end" class="tk" font-size="14.8">20</text>
<text transform="translate(352.8 899.6) scale(0.9 1)" text-anchor="middle" class="tk" font-size="14.8">30</text>
<text transform="translate(78.3 696.7) scale(0.9 1)" text-anchor="end" class="tk" font-size="14.8">30</text>
<text transform="translate(386.8 899.6) scale(0.9 1)" text-anchor="middle" class="tk" font-size="14.8">40</text>
<text transform="translate(78.3 673.4) scale(0.9 1)" text-anchor="end" class="tk" font-size="14.8">40</text>
<text transform="translate(420.6 899.6) scale(0.9 1)" text-anchor="middle" class="tk" font-size="14.8">50</text>
<text transform="translate(78.3 649.9) scale(0.9 1)" text-anchor="end" class="tk" font-size="14.8">50</text>
<text x="91.3" y="663.5" class="sf" font-size="20" fill="#333">(c)</text>
<text x="152.9" y="932.4" class="sf" font-size="20" textLength="200.6" lengthAdjust="spacingAndGlyphs" fill="#262626">Measured shear stress / Pa</text>
<text transform="translate(33.6 861.6) rotate(-90)" x="0" y="0" class="sf" font-size="20" textLength="77.6" lengthAdjust="spacingAndGlyphs" fill="#262626">Calculated</text>
<text transform="translate(33.6 777.2) rotate(-90)" x="0" y="0" class="sf" font-size="20" textLength="121.6" lengthAdjust="spacingAndGlyphs" fill="#262626">shear stress / Pa</text>
<text x="524" y="24.2" class="sb" font-size="18.5">Model</text>
<rect x="524" y="26.2" width="59.5" height="1.6" fill="#000"/>
<text x="524" y="50.3" class="sb" font-size="18.5">schematic</text>
<rect x="524" y="52.4" width="78.5" height="1.6" fill="#000"/>
<path d="M561 157 V181.5 H553.5 V164 L530 161.6 L530 159 Z" fill="#aeaaa9" stroke="#000" stroke-width="1.2" stroke-linejoin="round"/>
<rect x="553.5" y="169" width="7" height="1.2" fill="#333"/>
<path d="M552.6 89.6h7.4v7.2q0 1.6 3 1.9l22 1.8v4l-32.4 1z" fill="#aeaaa9" stroke="#000" stroke-width="1.2" stroke-linejoin="round"/>
<path d="M529.5 106 L585.5 101.5 L585.5 155 L529.5 160 Z" fill="#333"/><path d="M531 112.8 L584 108.6" stroke="#8a8a8a" stroke-width="1"/><path d="M531 122.9 L584 118.5" stroke="#8a8a8a" stroke-width="1"/><path d="M531 133.0 L584 128.5" stroke="#8a8a8a" stroke-width="1"/><path d="M531 143.1 L584 138.4" stroke="#8a8a8a" stroke-width="1"/><path d="M531 153.2 L584 148.4" stroke="#8a8a8a" stroke-width="1"/>
<path d="M529 104.6 L585.6 100.4 Q588 100.4 588 102.8 L588 104.3 Q588 106.7 585.6 106.7 L529 110.9 Q526.6 110.9 526.6 108.5 L526.6 107 Q526.6 104.6 529 104.6 Z" fill="#dadada" stroke="#000" stroke-width="1.4"/>
<path d="M529 114.7 L585.6 110.35 Q588 110.35 588 112.75 L588 114.25 Q588 116.65 585.6 116.65 L529 121 Q526.6 121 526.6 118.6 L526.6 117.1 Q526.6 114.7 529 114.7 Z" fill="#dadada" stroke="#000" stroke-width="1.4"/>
<path d="M529 124.8 L585.6 120.3 Q588 120.3 588 122.7 L588 124.2 Q588 126.6 585.6 126.6 L529 131.1 Q526.6 131.1 526.6 128.7 L526.6 127.2 Q526.6 124.8 529 124.8 Z" fill="#dadada" stroke="#000" stroke-width="1.4"/>
<path d="M529 134.9 L585.6 130.25 Q588 130.25 588 132.65 L588 134.15 Q588 136.55 585.6 136.55 L529 141.2 Q526.6 141.2 526.6 138.8 L526.6 137.3 Q526.6 134.9 529 134.9 Z" fill="#dadada" stroke="#000" stroke-width="1.4"/>
<path d="M529 145 L585.6 140.2 Q588 140.2 588 142.6 L588 144.1 Q588 146.5 585.6 146.5 L529 151.3 Q526.6 151.3 526.6 148.9 L526.6 147.4 Q526.6 145 529 145 Z" fill="#dadada" stroke="#000" stroke-width="1.4"/>
<path d="M529 155.1 L585.6 150.15 Q588 150.15 588 152.55 L588 154.05 Q588 156.45 585.6 156.45 L529 161.4 Q526.6 161.4 526.6 159 L526.6 157.5 Q526.6 155.1 529 155.1 Z" fill="#dadada" stroke="#000" stroke-width="1.4"/>
<rect x="528.8" y="182.8" width="57.2" height="61" rx="8" ry="8" fill="#1f9ad9" stroke="#000" stroke-width="4.5"/>
<rect x="531" y="207.5" width="53" height="10" fill="#aeaaa9"/>
<rect x="531" y="207" width="53" height="0.9" fill="#222"/>
<rect x="531" y="217.3" width="53" height="0.9" fill="#222"/>
<rect x="554" y="181" width="6.5" height="27" fill="#aeaaa9"/>
<rect x="553.3" y="185" width="0.9" height="22.5" fill="#222"/>
<rect x="560.3" y="185" width="0.9" height="22.5" fill="#222"/>
<rect x="554" y="245" width="6.5" height="9.5" fill="#000"/>
<text x="607" y="127.7" class="sf" font-size="21" fill="#333">E</text>
<text x="602.3" y="212.6" class="sf" font-size="23.5" fill="#333">&#951;</text>
<text x="585.8" y="417.6" class="sb" font-size="18.5" text-anchor="middle">Sigma form of the differential</text>
<rect x="468.3" y="419.6" width="246" height="1.7" fill="#000"/>
<text x="585.5" y="443.5" class="sb" font-size="18.5" text-anchor="middle">equation</text>
<rect x="551" y="445.6" width="68.8" height="1.7" fill="#000"/>
<g fill="#111" stroke="#111" stroke-width="0.2">
<text x="530.2" y="484.2" font-size="20" class="mi">&#963;</text>
<text x="544.8" y="484.6" font-size="24" class="mn">=</text>
<text x="570.5" y="484.2" font-size="20" class="mi">&#951;</text>
<text x="580.6" y="484.2" font-size="20" class="mi">&#949;</text>
<text x="595.6" y="484.2" font-size="22" class="mn">&#8722;</text>
<text x="615.4" y="470.2" font-size="16.5" class="mi">&#951;</text>
<text x="615.6" y="496.2" font-size="16.5" class="mi">E</text>
<text x="631.6" y="484.2" font-size="20" class="mi">&#963;</text>
</g>
<rect x="615.9" y="477.6" width="12" height="1.2" fill="#111"/>
<rect x="584.6" y="470.3" width="1.8" height="1.8" fill="#111"/>
<rect x="635.8" y="470.3" width="1.8" height="1.8" fill="#111"/>
<text x="519.5" y="740.4" class="sb" font-size="18.5">Linear equation</text>
<rect x="519.5" y="742.4" width="129" height="1.7" fill="#000"/>
<g fill="#111" stroke="#111" stroke-width="0.2">
<text x="521" y="767.3" font-size="19" class="mi">&#963;</text>
<text x="537" y="767.7" font-size="24" class="mn">=</text>
<text x="561" y="767.3" font-size="18" class="mi">K</text>
<text x="572.4" y="770.2" font-size="13" class="mn">1</text>
<text x="581" y="767.3" font-size="19" class="mi">&#949;</text>
<text x="595" y="767.3" font-size="22" class="mn">+</text>
<text x="615.8" y="767.3" font-size="18" class="mi">K</text>
<text x="626.4" y="770.2" font-size="13" class="mn">2</text>
<text x="635.6" y="767.3" font-size="19" class="mi">&#963;</text>
</g>
<rect x="585.3" y="754.6" width="1.8" height="1.8" fill="#111"/>
<rect x="640.6" y="754.6" width="1.8" height="1.8" fill="#111"/>
</svg>
</body></html>
